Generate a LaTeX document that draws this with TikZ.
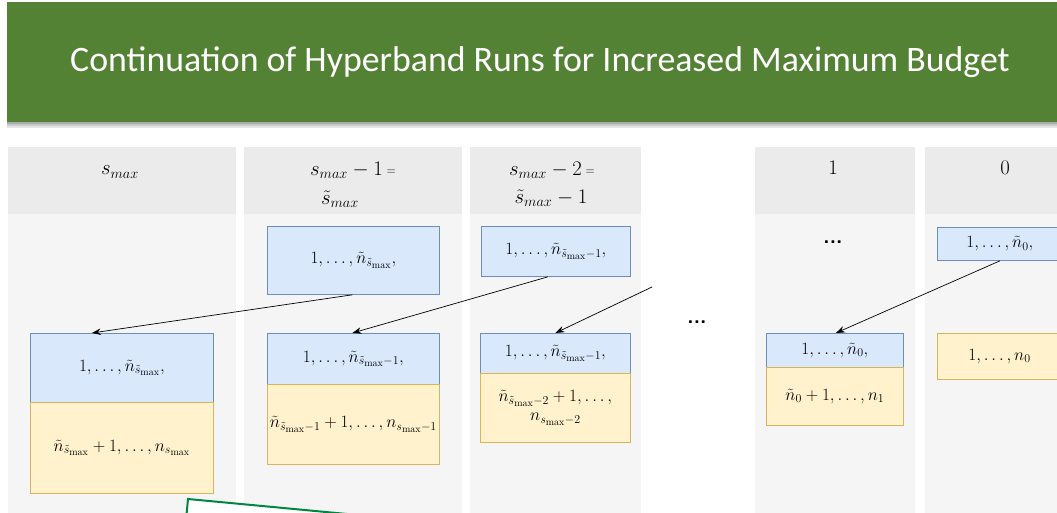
\documentclass[tikz,border=0pt]{standalone}
\usepackage{fontspec}
\newfontfamily\titlefont{Carlito}
\usetikzlibrary{arrows.meta,shadows}
\definecolor{bannergreen}{RGB}{84,130,53}
\definecolor{hdgray}{RGB}{235,235,235}
\definecolor{bdgray}{RGB}{245,245,245}
\definecolor{bluefill}{RGB}{218,232,252}
\definecolor{blueline}{RGB}{108,142,191}
\definecolor{yellowfill}{RGB}{255,242,204}
\definecolor{yellowline}{RGB}{214,182,86}
\definecolor{framegreen}{RGB}{0,135,62}
\tikzset{
  bx/.style={draw, line width=0.8pt, inner sep=0pt, anchor=north west, align=center,
    font=\LARGE},
  bluebox/.style={bx, draw=blueline, fill=bluefill},
  yellowbox/.style={bx, draw=yellowline, fill=yellowfill},
  headtxt/.style={inner sep=0pt, font=\huge},
  link/.style={-{Stealth[length=9pt,width=6.5pt]}, line width=0.7pt},
  dots/.style={inner sep=0pt, font=\sffamily\bfseries\huge},
}
\newcommand{\smeq}{{\sffamily\large\ \raisebox{1pt}{=}}}
\begin{document}
\begin{tikzpicture}[x=1pt,y=-1pt]
\useasboundingbox (0,0) rectangle (1057,513);
\clip (0,0) rectangle (1057,513);
% banner with soft shadow
\fill[black, opacity=0.10] (7,122) rectangle (1060,128);
\fill[black, opacity=0.12] (7,122) rectangle (1060,126);
\fill[black, opacity=0.15] (7,122) rectangle (1060,124);
\fill[bannergreen] (7,2) rectangle (1060,122);
\node[text=white, inner sep=0pt, font=\titlefont\fontsize{35.8}{36}\selectfont] (title) at (540,62) {Continuation of Hyperband Runs for Increased Maximum Budget};
% columns
\fill[hdgray] (8,147) rectangle (236,214);
\fill[bdgray] (8,214) rectangle (236,520);
\fill[hdgray] (244,147) rectangle (462,214);
\fill[bdgray] (244,214) rectangle (462,520);
\fill[hdgray] (470,147) rectangle (641,214);
\fill[bdgray] (470,214) rectangle (641,520);
\fill[hdgray] (755,147) rectangle (915,214);
\fill[bdgray] (755,214) rectangle (915,520);
\fill[hdgray] (925,147) rectangle (1070,214);
\fill[bdgray] (925,214) rectangle (1070,520);
% headers
\node[headtxt] (h1) at (120,172) {$s_{max}$};
\node[headtxt] (h2a) at (353,170) {$s_{max}-1$\smeq};
\node[headtxt] (h2b) at (340,199) {$\tilde s_{max}$};
\node[headtxt] (h3a) at (552,170) {$s_{max}-2$\smeq};
\node[headtxt] (h3b) at (551,198) {$\tilde s_{max}-1$};
\node[headtxt] (h4) at (833,168) {$1$};
\node[headtxt] (h5) at (1005,168) {$0$};
% top boxes
\node[bluebox, minimum width=172pt, minimum height=68pt] (t2) at (267,226) {$1,\dots,\tilde n_{\tilde s_{\max}},$};
\node[bluebox, minimum width=149pt, minimum height=50pt] (t3) at (481,226) {$1,\dots,\tilde n_{\tilde s_{\max}-1},$};
\node[dots] (d4) at (833,242) {...};
\node[bluebox, minimum width=140pt, minimum height=33pt, text width=110pt, align=left] (t5) at (937,227) {\hspace*{14pt}$1,\dots,\tilde n_0,$};
% bottom boxes
\node[bluebox, minimum width=183pt, minimum height=69pt] (b1) at (30,333) {$1,\dots,\tilde n_{\tilde s_{\max}},$};
\node[yellowbox, minimum width=183pt, minimum height=91pt] (y1) at (30,402) {$\tilde n_{\tilde s_{\max}}+1,\dots,n_{s_{\max}}$};
\node[bluebox, minimum width=172pt, minimum height=51pt] (b2) at (267,333) {$1,\dots,\tilde n_{\tilde s_{\max}-1},$};
\node[yellowbox, minimum width=172pt, minimum height=80pt] (y2) at (267,384) {$\tilde n_{\tilde s_{\max}-1}+1,\dots,n_{s_{\max}-1}$};
\node[bluebox, minimum width=150pt, minimum height=40pt] (b3) at (480,333) {$1,\dots,\tilde n_{\tilde s_{\max}-1},$};
\node[yellowbox, minimum width=150pt, minimum height=69pt] (y3) at (480,373) {$\tilde n_{\tilde s_{\max}-2}+1,\dots,$\\[-3pt]$n_{s_{\max}-2}$};
\node[dots] (dmid) at (697,322) {...};
\node[bluebox, minimum width=137pt, minimum height=34pt] (b4) at (766,333) {$1,\dots,\tilde n_0,$};
\node[yellowbox, minimum width=137pt, minimum height=58pt] (y4) at (766,367) {$\tilde n_0+1,\dots,n_1$};
\node[yellowbox, minimum width=140pt, minimum height=46pt, text width=110pt, align=left] (y5) at (937,333) {\hspace*{16pt}$1,\dots,n_0$};
% arrows
\coordinate (free) at (652,287);
\draw[link] ([xshift=-1pt]t2.south) -- ([xshift=-30pt]b1.north);
\draw[link] ([xshift=67pt]t3.south west) -- ([xshift=-1pt]b2.north);
\draw[link] (free) -- (b3.north);
\draw[link] ([xshift=63pt]t5.south west) -- ([xshift=1pt]b4.north);
% green frame (cut off)
\filldraw[fill=white, draw=framegreen, line width=2pt, drop shadow={shadow xshift=2pt, shadow yshift=-2pt, opacity=0.25}]
  (188,499) -- ++(600,56.6) -- ++(-9.4,99.6) -- ++(-600,-56.6) -- cycle;
\end{tikzpicture}
\end{document}
